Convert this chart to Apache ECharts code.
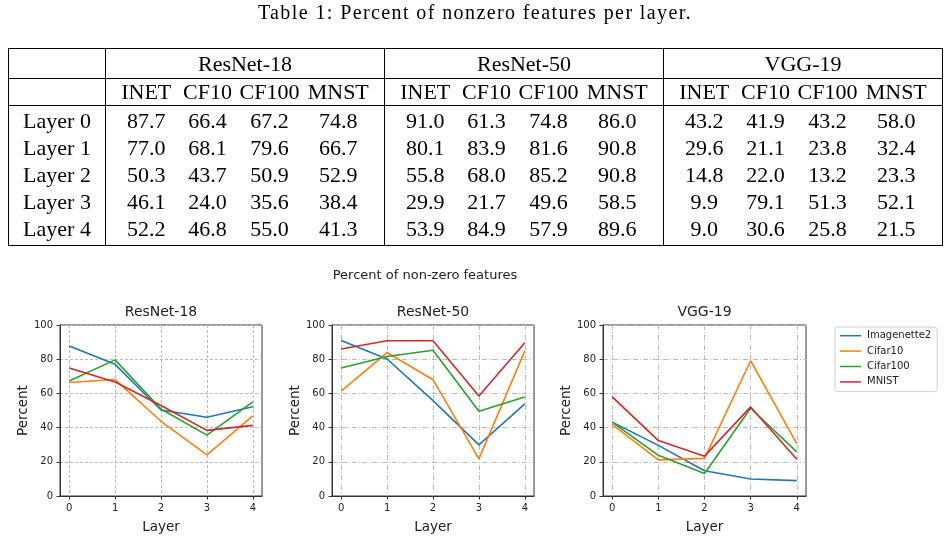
<!DOCTYPE html>
<html>
<head>
<meta charset="utf-8">
<script src="https://cdn.jsdelivr.net/npm/echarts@6/dist/echarts.min.js"></script>
<style>
  html, body { margin: 0; padding: 0; background: #fff; }
  #page { position: relative; width: 950px; height: 541px; overflow: hidden; }
  #chart { position: absolute; left: 0; top: 0; width: 950px; height: 541px; }
  #caption { position: absolute; left: 0; top: 1px; width: 950px; text-align: center;
    font-family: "Liberation Serif", serif; font-size: 20px; letter-spacing: 1.4px; color: #000; }
  #tbl { position: absolute; left: 8px; top: 48px; border-collapse: collapse;
    font-family: "Liberation Serif", serif; font-size: 22px; color: #000; table-layout: fixed; }
  #tbl td { padding: 0; text-align: center; white-space: nowrap; }
  #tbl .vl { border-left: 1px solid #000; }
  #tbl .hl td { border-top: 1px solid #000; }
</style>
</head>
<body>
<div id="page">
  <div id="chart"></div>
  <div id="caption"></div>
  <table id="tbl"></table>
</div>
<script>
// 数据
var layers = [0, 1, 2, 3, 4];
var models = ['ResNet-18', 'ResNet-50', 'VGG-19'];
var shortNames = ['INET', 'CF10', 'CF100', 'MNST'];
var datasetNames = ['Imagenette2', 'Cifar10', 'Cifar100', 'MNIST'];

var r18Inet  = [87.7, 77.0, 50.3, 46.1, 52.2];
var r18Cf10  = [66.4, 68.1, 43.7, 24.0, 46.8];
var r18Cf100 = [67.2, 79.6, 50.9, 35.6, 55.0];
var r18Mnst  = [74.8, 66.7, 52.9, 38.4, 41.3];

var r50Inet  = [91.0, 80.1, 55.8, 29.9, 53.9];
var r50Cf10  = [61.3, 83.9, 68.0, 21.7, 84.9];
var r50Cf100 = [74.8, 81.6, 85.2, 49.6, 57.9];
var r50Mnst  = [86.0, 90.8, 90.8, 58.5, 89.6];

var vggInet  = [43.2, 29.6, 14.8, 9.9, 9.0];
var vggCf10  = [41.9, 21.1, 22.0, 79.1, 30.6];
var vggCf100 = [43.2, 23.8, 13.2, 51.3, 25.8];
var vggMnst  = [58.0, 32.4, 23.3, 52.1, 21.5];

var groups = [
	[r18Inet, r18Cf10, r18Cf100, r18Mnst],
	[r50Inet, r50Cf10, r50Cf100, r50Mnst],
	[vggInet, vggCf10, vggCf100, vggMnst]
];

// 表格
document.getElementById('caption').textContent = 'Table 1: Percent of nonzero features per layer.';
var subW = [73, 58, 66, 82];
var html = '<colgroup><col style="width:97px">';
for (var g = 0; g < models.length; g++) {
	for (var s = 0; s < 4; s++) html += '<col style="width:' + subW[s] + 'px">';
}
html += '</colgroup>';
html += '<tr style="height:30px"><td></td>';
for (var g = 0; g < models.length; g++) {
	html += '<td colspan="4" class="vl">' + models[g] + '</td>';
}
html += '</tr><tr class="hl" style="height:26px"><td></td>';
for (var g = 0; g < models.length; g++) {
	for (var s = 0; s < 4; s++) {
		var pad = s == 0 ? 'padding-left:8px;' : (s == 3 ? 'padding-right:10px;' : '');
		html += '<td style="' + pad + '"' + (s == 0 ? ' class="vl"' : '') + '>' + shortNames[s] + '</td>';
	}
}
html += '</tr>';
for (var r = 0; r < layers.length; r++) {
	var h = 27, extra = '';
	if (r == 0) { h = 29; extra = 'padding-top:2px;'; }
	if (r == layers.length - 1) { h = 29; extra = 'padding-bottom:3px;'; }
	html += '<tr' + (r == 0 ? ' class="hl"' : '') + ' style="height:' + h + 'px"><td style="' + extra + '">Layer ' + layers[r] + '</td>';
	for (var g = 0; g < models.length; g++) {
		for (var s = 0; s < 4; s++) {
			var pad = s == 0 ? 'padding-left:8px;' : (s == 3 ? 'padding-right:10px;' : '');
			html += '<td style="' + pad + extra + '"' + (s == 0 ? ' class="vl"' : '') + '>' + groups[g][s][r].toFixed(1) + '</td>';
		}
	}
	html += '</tr>';
}
var tbl = document.getElementById('tbl');
tbl.innerHTML = html;
tbl.style.border = '1px solid #000';

// 图表
var chart = echarts.init(document.getElementById('chart'), null, {renderer: 'canvas'});
var font = 'DejaVu Sans';
var txt = '#222';
var gridLefts = [60, 332, 603];
var gridWidths = [202, 202, 203];
var gridDash = [[3, 2], [5, 2, 1, 2], [5, 2, 1, 2]];

var grids = [], xAxes = [], yAxes = [], series = [], titles = [];
titles.push({
	text: 'Percent of non-zero features', left: 425, top: 269, textAlign: 'center', padding: 0,
	textStyle: {fontFamily: font, fontSize: 13, fontWeight: 'normal', color: txt}
});
for (var g = 0; g < models.length; g++) {
	grids.push({
		left: gridLefts[g], top: 325, width: gridWidths[g], height: 171,
		show: true, borderColor: '#333', borderWidth: 1, backgroundColor: 'transparent'
	});
	titles.push({
		text: models[g], left: gridLefts[g] + gridWidths[g] / 2, top: 305, textAlign: 'center', padding: 0,
		textStyle: {fontFamily: font, fontSize: 14, fontWeight: 'normal', color: txt}
	});
	var split = {show: true, lineStyle: {color: '#bbbbbb', width: 1, type: gridDash[g]}};
	xAxes.push({
		gridIndex: g, type: 'value', min: -0.2, max: 4.2,
		name: 'Layer', nameLocation: 'middle', nameGap: 24,
		nameTextStyle: {fontFamily: font, fontSize: 13.5, color: txt},
		axisLine: {onZero: false, lineStyle: {color: '#333'}},
		axisTick: {customValues: layers, length: 3.5, lineStyle: {color: '#333'}},
		axisLabel: {customValues: layers, margin: 7, fontFamily: font, fontSize: 10, color: txt},
		splitLine: split
	});
	yAxes.push({
		gridIndex: g, type: 'value', min: 0, max: 100, interval: 20,
		name: 'Percent', nameLocation: 'middle', nameGap: 25,
		nameTextStyle: {fontFamily: font, fontSize: 13.5, color: txt},
		axisLine: {show: true, onZero: false, lineStyle: {color: '#333'}},
		axisTick: {show: true, length: 3.5, lineStyle: {color: '#333'}},
		axisLabel: {margin: 7, fontFamily: font, fontSize: 10, color: txt},
		splitLine: split
	});
	for (var s = 0; s < 4; s++) {
		series.push({
			name: datasetNames[s], type: 'line', xAxisIndex: g, yAxisIndex: g,
			showSymbol: false, symbol: 'none',
			lineStyle: {width: 1.6},
			data: layers.map(function (l, i) { return [l, groups[g][s][i]]; })
		});
	}
}

var option = {
	animation: false,
	color: ['#1f77b4', '#ff7f0e', '#2ca02c', '#d62728'],
	title: titles,
	grid: grids,
	xAxis: xAxes,
	yAxis: yAxes,
	legend: {
		data: datasetNames, orient: 'vertical', left: 835, top: 327,
		icon: 'rect', itemWidth: 21, itemHeight: 1.5, itemGap: 0,
		padding: [1, 6, 2, 5], borderColor: '#d0d0d0', borderWidth: 1, borderRadius: 3,
		backgroundColor: '#fff',
		textStyle: {fontFamily: font, fontSize: 10, color: txt, lineHeight: 15.4, padding: [0, 0, 0, 1]}
	},
	series: series
};
chart.setOption(option);

window.onresize = function () {
	chart.resize();
};
</script>
</body>
</html>
